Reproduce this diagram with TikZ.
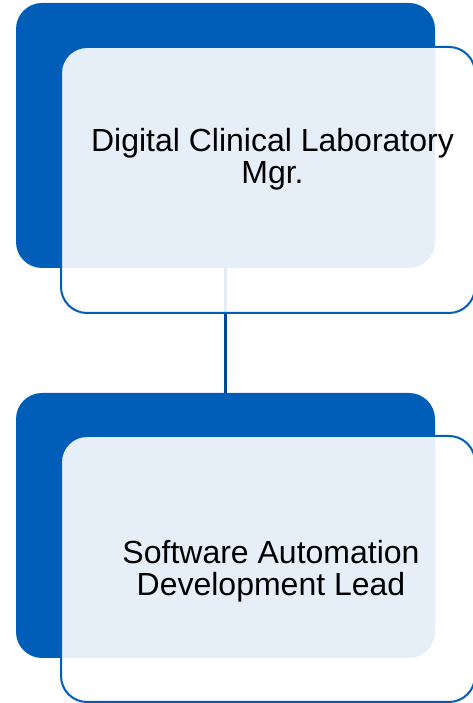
\documentclass[tikz,border=0pt]{standalone}
\usepackage{fontspec}
\setmainfont{Liberation Sans}
\usetikzlibrary{positioning}
\definecolor{boxblue}{HTML}{005EB8}
\definecolor{linkblue}{HTML}{00479A}
\tikzset{
  backbox/.style={rectangle, rounded corners=26pt, fill=boxblue, inner sep=0pt,
    minimum width=419pt, minimum height=265pt},
  frontbox/.style={rectangle, rounded corners=26pt, draw=boxblue, line width=2pt,
    fill=white, fill opacity=0.9, inner sep=0pt, minimum width=414pt, minimum height=266pt},
  boxtext/.style={align=center, font=\fontsize{32}{32}\selectfont, text=black},
  link/.style={draw=linkblue, line width=2.2pt}
}
\begin{document}
\begin{tikzpicture}[x=1pt,y=1pt]
\useasboundingbox (0,0) rectangle (473,703);
% blue back boxes
\node[backbox] (mgrback) at (225.5,567.5) {};
\node[backbox] (leadback) at (225.5,177.5) {};
\draw[link] (mgrback.south) -- (leadback.north);
% light front boxes
\node[frontbox] (mgrfront) at (268,523) {};
\node[frontbox] (leadfront) at (268,134) {};
\node[boxtext] (mgr) at (272.5,544) {Digital Clinical Laboratory\\Mgr.};
\node[boxtext] (lead) at (271,131.5) {Software Automation\\Development Lead};
\end{tikzpicture}
\end{document}
